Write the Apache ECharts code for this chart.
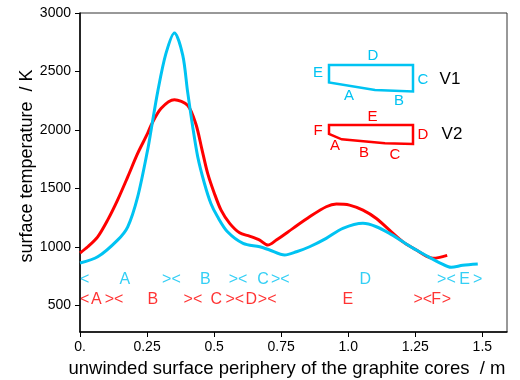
<!DOCTYPE html>
<html><head><meta charset="utf-8">
<script src="https://cdn.jsdelivr.net/npm/echarts@6/dist/echarts.min.js"></script>
<style>html,body{margin:0;padding:0;background:#fff}#c{width:520px;height:380px}</style>
</head><body><div id="c"></div>
<script>
// ---- data ----
const xTicks = [0, 0.25, 0.5, 0.75, 1.0, 1.25, 1.5];
const xTickLabels = ["0.", "0.25", "0.5", "0.75", "1.0", "1.25", "1.5"];
const yTicks = [500, 1000, 1500, 2000, 2500, 3000];

const v1 = [[0,862],[0.066,915],[0.14,1058],[0.178,1172],[0.215,1428],[0.252,1827],[0.265,1998],[0.29,2330],[0.32,2650],[0.352,2830],[0.383,2640],[0.401,2330],[0.42,2030],[0.439,1770],[0.464,1542],[0.488,1371],[0.513,1257],[0.55,1129],[0.608,1030],[0.67,1001],[0.707,973],[0.763,930],[0.807,958],[0.856,1001],[0.918,1073],[0.98,1158],[1.055,1201],[1.105,1172],[1.154,1115],[1.204,1043],[1.254,973],[1.303,910],[1.341,864],[1.384,825],[1.427,842],[1.483,853]];
const v2 = [[0,948],[0.029,1001],[0.066,1086],[0.103,1229],[0.14,1400],[0.178,1599],[0.215,1799],[0.252,1970],[0.265,2040],[0.302,2183],[0.352,2258],[0.401,2211],[0.432,2050],[0.455,1830],[0.476,1628],[0.501,1457],[0.526,1314],[0.558,1201],[0.595,1120],[0.632,1092],[0.67,1058],[0.7,1015],[0.732,1058],[0.794,1158],[0.856,1257],[0.918,1343],[0.956,1366],[1.005,1357],[1.055,1314],[1.105,1243],[1.154,1143],[1.204,1043],[1.254,973],[1.291,921],[1.316,902],[1.341,910],[1.369,927]];

// segment markers along the periphery: [text, x]
const v1Segments = [["<",0.0175],["A",0.167],["><",0.341],["B",0.467],["><",0.589],["C",0.682],["><",0.747],["D",1.064],["><",1.366],["E",1.434],[">",1.483]];
const v2Segments = [["<",0.0175],["A",0.061],["><",0.127],["B",0.272],["><",0.421],["C",0.508],["><",0.577],["D",0.639],["><",0.698],["E",0.999],["><",1.278],["F",1.328],[">",1.366]];
const v1RowY = 716, v2RowY = 551;

const BLUE = '#00c3f2', RED = '#ff0000';
const FONT = 'Liberation Sans, Arial, sans-serif';

const chart = echarts.init(document.getElementById('c'));

function segSeries(segs, rowY, color) {
  return {
    type: 'scatter', symbolSize: 0, silent: true, z: 5,
    data: segs.map(s => ({ value: [s[1], rowY], name: s[0] })),
    label: { show: true, position: 'inside', formatter: p => p.name, color: color, fontSize: 16, fontFamily: FONT }
  };
}

const option = {
  backgroundColor: '#fff',
  animation: false,
  grid: { left: 80, right: 13, top: 13, bottom: 48, show: true, borderColor: '#333', borderWidth: 1 },
  xAxis: {
    type: 'value', min: 0, max: 1.592,
    splitLine: { show: false },
    axisLine: { onZero: false, lineStyle: { color: '#000', width: 1.5 } },
    axisTick: { show: true, inside: false, length: 5, lineStyle: { color: '#000' }, customValues: xTicks },
    axisLabel: { color: '#000', fontSize: 14, fontFamily: FONT, margin: 8, customValues: xTicks,
      formatter: v => { const i = xTicks.findIndex(t => Math.abs(t - v) < 1e-6); return i >= 0 ? xTickLabels[i] : ''; } }
  },
  yAxis: {
    type: 'value', min: 272, max: 3000,
    splitLine: { show: false },
    axisLine: { onZero: false, lineStyle: { color: '#000', width: 1.5 } },
    axisTick: { show: true, inside: false, length: 5, lineStyle: { color: '#000' }, customValues: yTicks },
    axisLabel: { color: '#000', fontSize: 14, fontFamily: FONT, margin: 9, customValues: yTicks, formatter: v => String(v) }
  },
  series: [
    { type: 'line', data: v2, smooth: 0.3, showSymbol: false, lineStyle: { color: RED, width: 3 }, z: 3 },
    { type: 'line', data: v1, smooth: 0.3, showSymbol: false, lineStyle: { color: BLUE, width: 3 }, z: 4 },
    segSeries(v1Segments, v1RowY, BLUE),
    segSeries(v2Segments, v2RowY, RED)
  ],
  graphic: [
    { type: 'text', x: 27, y: 166, rotation: Math.PI / 2,
      style: { text: 'surface temperature  / K', font: '18px ' + FONT, fill: '#000', textAlign: 'center', textVerticalAlign: 'middle' } },
    { type: 'text', x: 287, y: 369,
      style: { text: 'unwinded surface periphery of the graphite cores  / m', font: '18.5px ' + FONT, fill: '#000', textAlign: 'center', textVerticalAlign: 'middle' } },
    // V1 cross-section sketch
    { type: 'polygon', shape: { points: [[329,65],[413,65],[413,91.5],[375,90],[329,82.5]] }, style: { fill: 'none', stroke: BLUE, lineWidth: 2.5 } },
    { type: 'text', x: 373, y: 56, style: { text: 'D', font: '15px ' + FONT, fill: BLUE, textAlign: 'center', textVerticalAlign: 'middle' } },
    { type: 'text', x: 318, y: 73, style: { text: 'E', font: '15px ' + FONT, fill: BLUE, textAlign: 'center', textVerticalAlign: 'middle' } },
    { type: 'text', x: 423, y: 80, style: { text: 'C', font: '15px ' + FONT, fill: BLUE, textAlign: 'center', textVerticalAlign: 'middle' } },
    { type: 'text', x: 349, y: 96, style: { text: 'A', font: '15px ' + FONT, fill: BLUE, textAlign: 'center', textVerticalAlign: 'middle' } },
    { type: 'text', x: 399, y: 101, style: { text: 'B', font: '15px ' + FONT, fill: BLUE, textAlign: 'center', textVerticalAlign: 'middle' } },
    { type: 'text', x: 450, y: 79, style: { text: 'V1', font: '17px ' + FONT, fill: '#000', textAlign: 'center', textVerticalAlign: 'middle' } },
    // V2 cross-section sketch
    { type: 'polygon', shape: { points: [[329,125],[413,125],[413,144],[385,143.3],[341.7,139.3],[329,134]] }, style: { fill: 'none', stroke: RED, lineWidth: 2.5 } },
    { type: 'text', x: 372.5, y: 117, style: { text: 'E', font: '15px ' + FONT, fill: RED, textAlign: 'center', textVerticalAlign: 'middle' } },
    { type: 'text', x: 318, y: 131, style: { text: 'F', font: '15px ' + FONT, fill: RED, textAlign: 'center', textVerticalAlign: 'middle' } },
    { type: 'text', x: 423, y: 135, style: { text: 'D', font: '15px ' + FONT, fill: RED, textAlign: 'center', textVerticalAlign: 'middle' } },
    { type: 'text', x: 335, y: 146, style: { text: 'A', font: '15px ' + FONT, fill: RED, textAlign: 'center', textVerticalAlign: 'middle' } },
    { type: 'text', x: 364, y: 153, style: { text: 'B', font: '15px ' + FONT, fill: RED, textAlign: 'center', textVerticalAlign: 'middle' } },
    { type: 'text', x: 395, y: 155, style: { text: 'C', font: '15px ' + FONT, fill: RED, textAlign: 'center', textVerticalAlign: 'middle' } },
    { type: 'text', x: 452, y: 134, style: { text: 'V2', font: '17px ' + FONT, fill: '#000', textAlign: 'center', textVerticalAlign: 'middle' } }
  ]
};
chart.setOption(option);
</script>
</body></html>
